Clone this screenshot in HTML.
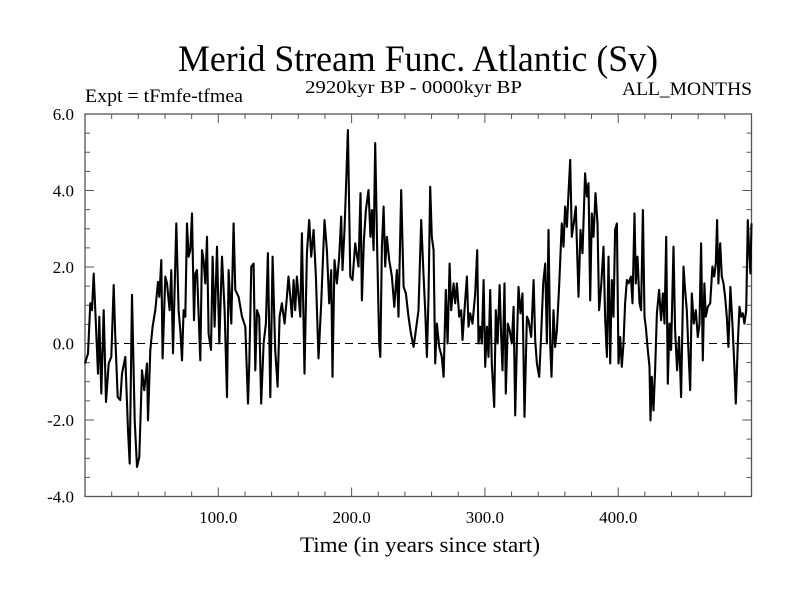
<!DOCTYPE html>
<html><head><meta charset="utf-8"><style>
html,body{margin:0;padding:0;background:#fff;}
svg{display:block;}
text{font-family:"Liberation Serif",serif;fill:#000;}
</style></head><body>
<svg id="chart" width="800" height="600" viewBox="0 0 800 600">
<text x="418" y="71" font-size="37" text-anchor="middle" textLength="480" lengthAdjust="spacingAndGlyphs">Merid Stream Func. Atlantic (Sv)</text>
<text x="85" y="102" font-size="19" textLength="158" lengthAdjust="spacingAndGlyphs">Expt = tFmfe-tfmea</text>
<text x="305" y="93" font-size="18" textLength="217" lengthAdjust="spacingAndGlyphs">2920kyr BP - 0000kyr BP</text>
<text x="752" y="95" font-size="19" text-anchor="end" textLength="130" lengthAdjust="spacingAndGlyphs">ALL_MONTHS</text>
<text x="420" y="552" font-size="22" text-anchor="middle" textLength="240" lengthAdjust="spacingAndGlyphs">Time (in years since start)</text>
<g id="axes"></g>
<g id="series"></g>
</svg>
<script>
const years = [0,2.25,4,5.25,6.5,8.25,9.75,10.75,12.25,14,15.75,17.75,19.75,21.5,22.75,24.5,26.5,27.75,30.25,32.25,33.5,35.25,37.25,39,40.75,42.75,44.5,46.5,47.25,49,50.75,52.75,54.75,55.75,57.25,58.25,60.25,61.5,63.5,64.75,66,68.5,70.25,71.5,72.75,74,75.25,76.5,77.75,79,80.25,81.75,82.75,84,86.5,87.75,89,90.25,91.5,92.75,94.5,95.75,97.25,99,100.75,102.75,104.75,106.5,107.75,109.75,111.5,112.75,115.25,117.75,120.25,122.25,123.25,124.75,126.5,127.75,
129,130.7,132.2,134,135.7,137.2,139,140.7,142.7,144.5,146,147.7,149.7,151.5,152.7,154,155.2,156.5,157.7,159,161.5,162.7,164.7,166.5,168.2,169.7,171.5,173.2,175.2,177.2,179.7,181.5,183.2,184.7,185.7,187.2,189,190.7,192.2,193.2,194.7,195.7,197.2,199,200.7,202.7,205.2,206.7,207.7,209.2,210.7,212.7,214.2,215.2,216.5,217.7,219.2,220.7,221.5,222.7,224,225.2,226.5,228.2,230.2,232,234,235.2,237.2,239,240.7,242.7,244.5,246.5,248.2,250.2,252.2,254,255.2,
256.5,257.7,259,260.2,261.5,262.7,264,265.7,267.7,269,270.7,272,273.5,274.7,276.5,277.7,279,280.7,282.2,283.2,284.7,286.5,287.7,289,290.7,292.7,294.2,295.2,296.5,297.7,299,300.2,301.5,302.7,304,305.2,307,308.2,309.5,311,312.2,313.2,314.7,315.7,317.2,318.5,320.2,321.5,322.7,324,325.2,326.7,328.2,329.7,331.5,332.7,334.7,336.5,337.7,339,340.7,342.2,343.7,345.2,346.5,347.7,349,350,351.5,352.7,354,355.7,357.7,359,360.2,361.5,362.7,364,365.2,367,368.2,370.2,371.7,373.2,375.2,376.5,377.7,379,380.2,381.5,
383,384.5,385.7,387.2,389,390.2,391.5,392.7,394,395.2,396.5,397.7,399,400.2,401.5,402.7,404,405.2,406.5,407.7,409.5,410.7,412.2,413.2,414.5,416,417.2,418.5,419.7,420.7,422.2,423.5,424.2,425.2,426.5,427.7,429,430.7,432.2,433.5,434.7,436,437.2,438.5,439.7,441.5,442.7,444.2,445.7,447.2,449,450.2,451.5,452.7,454,455.2,456.7,458.2,459.7,461,462.2,463.5,464.7,465.7,467.2,469,470.7,472,473.2,474.2,475.2,476.5,477.7,479,480.2,481.5,482.7,484.2,485.7,487.2,488.2,489.7,491,492.2,493.5,494.7,496,497.2,498.2,499.2,500];
const values = [-0.52,-0.26,1.05,0.87,1.83,0.44,-0.79,0.70,-1.31,0.87,-1.53,-0.52,-0.35,1.53,0.17,-1.40,-1.48,-0.79,-0.35,-2.27,-3.14,1.27,-2.01,-3.23,-2.97,-0.70,-1.22,-0.52,-2.01,-0.17,0.44,0.87,1.61,1.22,2.18,-0.39,1.75,1.57,0.87,1.92,-0.26,3.14,0.87,0.35,-0.44,0.87,0.70,3.14,2.27,2.44,3.40,0.61,1.83,1.92,-0.44,2.44,2.18,1.57,2.79,0.26,-0.17,2.27,0.44,2.53,0,2.27,0.87,-1.40,1.92,0.52,3.14,1.40,1.22,0.70,0.44,-1.57,-0.52,2.01,2.09,-0.70,
0.87,0.70,-1.57,0,0.52,2.36,-1.40,2.27,-0.17,-1.13,0.70,1.05,0.52,1.22,1.75,1.22,0.70,1.66,0.87,1.75,0.70,2.88,-0.79,2.36,3.23,2.27,2.97,1.75,-0.39,1.05,3.23,2.44,1.05,1.92,-0.87,2.18,1.57,2.27,3.32,1.92,2.97,4.01,5.58,1.75,1.66,2.62,2.01,3.93,1.13,2.71,3.49,4.01,2.79,3.49,2.44,5.24,2.44,0,-0.35,2.53,3.58,2.01,2.79,2.18,1.75,0.96,1.92,0.70,4.01,1.48,1.31,0.70,0.26,-0.09,0.35,0.87,3.23,1.75,0.87,
-0.35,1.22,4.10,2.79,2.44,-0.52,0.52,-0.09,-0.35,-0.87,1.40,0,2.09,0.87,1.57,1.05,1.57,0.70,0.87,0.09,0.87,1.75,0.44,0.79,0.52,1.31,2.44,0,0.44,0,1.66,-0.61,0.44,-0.35,1.40,-0.52,-1.66,0.87,0,1.53,0.17,-0.70,1.57,-1.31,0.52,0.35,0,0.96,-1.88,0,1.48,0.79,1.31,-1.92,0.70,0.61,0.17,1.66,0.09,-0.52,-0.87,0.26,1.57,2.09,0,2.97,0,-0.87,0.87,-0.09,0.35,1.48,3.14,2.53,3.58,3.05,3.93,4.80,2.79,3.23,3.58,1.22,2.97,2.36,4.45,3.84,4.19,1.13,3.40,2.79,
3.93,3.14,0.87,1.48,2.53,0.70,-0.35,2.27,-0.52,1.66,0.70,2.97,3.14,-0.52,0.17,-0.61,0,1.05,1.66,1.57,1.75,1.05,3.40,1.57,2.27,1.05,0.87,3.49,0.70,0.44,-0.17,-0.61,-2.01,-0.87,-1.75,-0.70,0.79,1.40,0.61,1.31,0.52,2.79,-1.05,0.52,-0.17,2.53,0.35,-0.70,0.17,-1.40,2.01,1.40,0.87,-0.17,-1.22,1.31,0.52,0.87,0.17,0.52,2.62,-0.44,1.57,0.70,0.96,1.05,2.01,1.75,2.09,3.23,1.57,2.62,1.75,1.57,1.22,0.70,-0.09,1.48,0.52,-0.61,-1.57,0,0.96,0.70,0.79,0.52,0.87,3.23,2.44,1.83,3.14];
const xTickValues = [100,200,300,400];
const xTickLabels = ["100.0","200.0","300.0","400.0"];
const yTickValues = [-4,-2,0,2,4,6];
const yTickLabels = ["-4.0","-2.0","0.0","2.0","4.0","6.0"];

const L=85, R=751.5, T=114, B=496.5;
const xMin=0, xMax=500, yMin=-4, yMax=6;
function xs(v){return L+(v-xMin)/(xMax-xMin)*(R-L);}
function ys(v){return B-(v-yMin)/(yMax-yMin)*(B-T);}
const NS="http://www.w3.org/2000/svg";
const axes=document.getElementById('axes');
const series=document.getElementById('series');
function mk(tag,attrs,parent){const e=document.createElementNS(NS,tag);for(const k in attrs)e.setAttribute(k,attrs[k]);parent.appendChild(e);return e;}

const zl=mk('line',{x1:L,x2:R,y1:ys(0),y2:ys(0),stroke:'#000','stroke-width':1,'stroke-dasharray':'8,5'},axes);



for(let v=20; v<500; v+=20){
  const major = v%100===0;
  const len = major?9:5;
  const t1=mk('line',{x1:xs(v),x2:xs(v),y1:B,y2:B-len,stroke:'#555','stroke-width':1},axes);
  
  
  const t2=mk('line',{x1:xs(v),x2:xs(v),y1:T,y2:T+len,stroke:'#555','stroke-width':1},axes);
  
  
}
xTickValues.forEach((v,i)=>{
  const t=mk('text',{x:xs(v),y:523,'font-size':17,'text-anchor':'middle'},axes);
  t.textContent=xTickLabels[i];
  
  
});
for(let v=-3.5; v<6; v+=0.5){
  const major = Math.abs(v-Math.round(v/2)*2)<1e-6;
  const len = major?9:5;
  const t1=mk('line',{x1:L,x2:L+len,y1:ys(v),y2:ys(v),stroke:'#555','stroke-width':1},axes);
  
  
  const t2=mk('line',{x1:R,x2:R-len,y1:ys(v),y2:ys(v),stroke:'#555','stroke-width':1},axes);
  
  
}
yTickValues.forEach((v,i)=>{
  const t=mk('text',{x:74,y:ys(v)+6,'font-size':17,'text-anchor':'end'},axes);
  t.textContent=yTickLabels[i];
  
  
});
const fr=mk('rect',{x:L,y:T,width:R-L,height:B-T,fill:'none',stroke:'#555','stroke-width':1.3},axes);



let d='';
years.forEach((yr,i)=>{d+=(i?'L':'M')+xs(yr).toFixed(1)+' '+ys(values[i]).toFixed(1);});
const p=mk('path',{d:d,fill:'none',stroke:'#000','stroke-width':2.1,'stroke-linejoin':'round'},series);


</script>
</body></html>
